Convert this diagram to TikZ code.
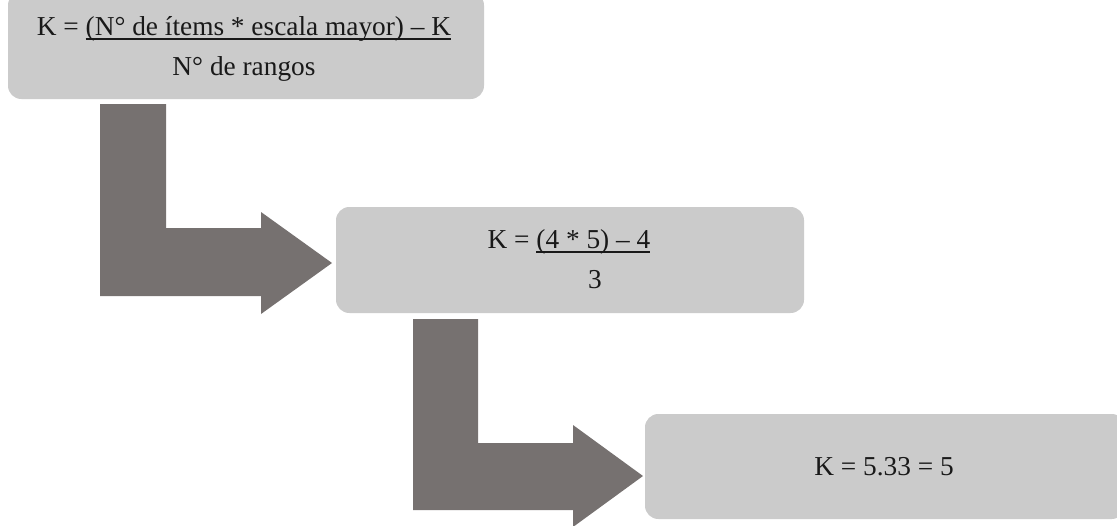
\documentclass[tikz,border=0pt]{standalone}
\usepackage{fontspec}
\setmainfont{Liberation Serif}
\newcommand\ulx[1]{\setbox0\hbox{#1}\rlap{\rule[-3.4pt]{\wd0}{1.1pt}}\box0}
\definecolor{boxgray}{RGB}{203,203,203}
\definecolor{arrowgray}{RGB}{118,113,112}
\definecolor{txt}{RGB}{25,25,25}
\tikzset{
  stepbox/.style={fill=boxgray, draw=none, rounded corners=10pt},
  bigarrow/.style={fill=arrowgray, draw=none},
  label/.style={anchor=base, inner sep=0pt, text=txt, font=\fontsize{20.5}{24}\selectfont}
}
\begin{document}
\begin{tikzpicture}[x=0.75pt, y=-0.75pt]
\useasboundingbox (0,0) rectangle (1117,525);
\clip (0,0) rectangle (1117,525);
% boxes
\fill[stepbox] (8,-8) rectangle (484,99);
\coordinate (b1) at (246,45);
\fill[stepbox] (336,207) rectangle (804,313);
\coordinate (b2) at (570,260);
\fill[stepbox] (645,414) rectangle (1125,519);
\coordinate (b3) at (885,466);
% arrows
\fill[bigarrow] (100,104) -- (166,104) -- (166,228) -- (261,228) -- (261,212)
  -- (332,263) -- (261,314) -- (261,296) -- (100,296) -- cycle;
\fill[bigarrow] (413,319) -- (478,319) -- (478,443) -- (573,443) -- (573,425)
  -- (643,476) -- (573,527) -- (573,510) -- (413,510) -- cycle;
% texts
\node[label] (t1) at (244,35) {K = \ulx{(N° de ítems * escala mayor) – K}};
\node[label] (t1b) at (244,75) {N° de rangos};
\node[label] (t2) at (569,248) {K = \ulx{(4 * 5) – 4}};
\node[label] (t2b) at (595,288) {3};
\node[label] (t3) at (884,475) {K = 5.33 = 5};
\end{tikzpicture}
\end{document}
